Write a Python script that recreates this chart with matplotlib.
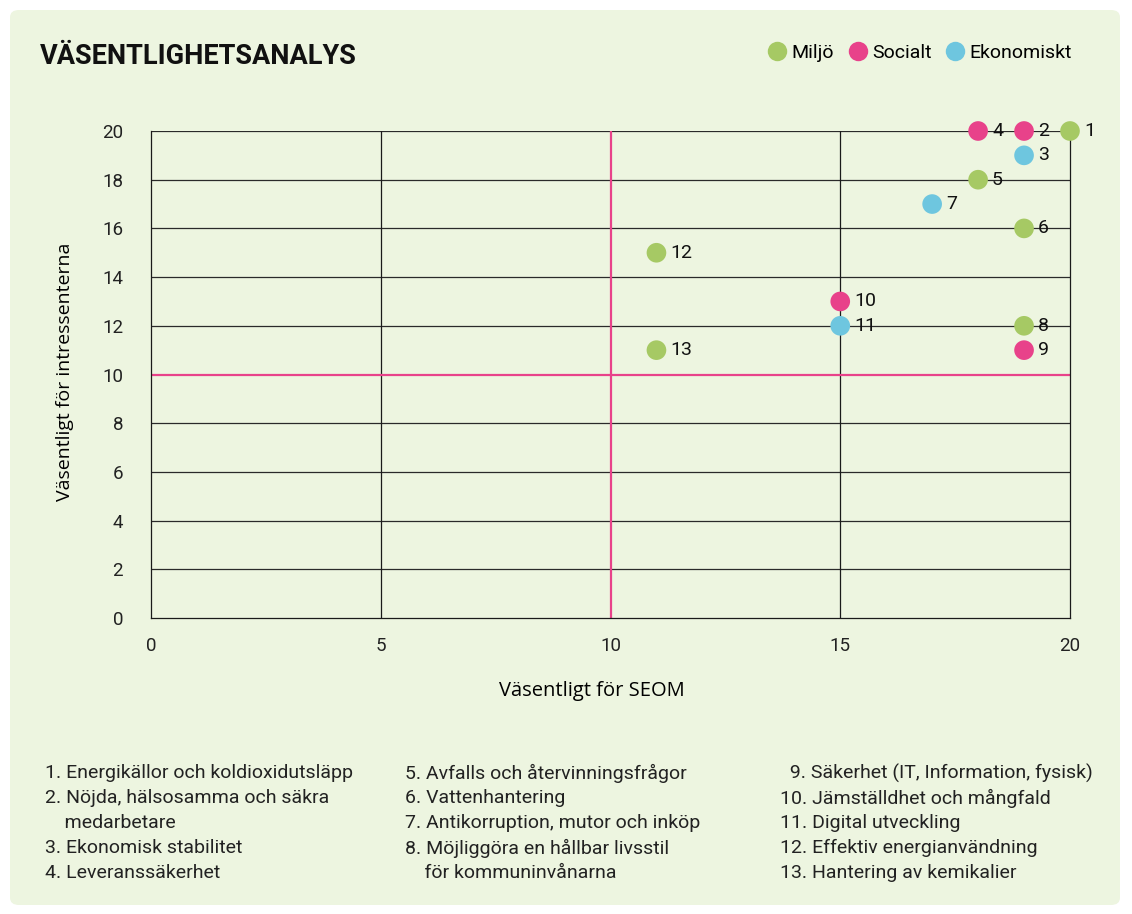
import matplotlib.pyplot as plt
from matplotlib.patches import FancyBboxPatch
from matplotlib.lines import Line2D

plt.rcParams['font.family'] = ['Roboto', 'DejaVu Sans']

# data
nums = [1, 2, 3, 4, 5, 6, 7, 8, 9, 10, 11, 12, 13]
seom = [20, 19, 19, 18, 18, 19, 17, 19, 19, 15, 15, 11, 11]
intressent = [20, 20, 19, 20, 18, 16, 17, 12, 11, 13, 12, 15, 11]
kategori = ['Miljö', 'Socialt', 'Ekonomiskt', 'Socialt', 'Miljö', 'Miljö', 'Ekonomiskt',
            'Miljö', 'Socialt', 'Socialt', 'Ekonomiskt', 'Miljö', 'Miljö']
kat_names = ['Miljö', 'Socialt', 'Ekonomiskt']
kat_colors = {'Miljö': '#a6c964', 'Socialt': '#e8428a', 'Ekonomiskt': '#6ec6df'}

col1 = ['1. Energikällor och koldioxidutsläpp', '2. Nöjda, hälsosamma och säkra',
        '    medarbetare', '3. Ekonomisk stabilitet', '4. Leveranssäkerhet']
col2 = ['5. Avfalls och återvinningsfrågor', '6. Vattenhantering',
        '7. Antikorruption, mutor och inköp', '8. Möjliggöra en hållbar livsstil',
        '    för kommuninvånarna']
col3 = ['  9. Säkerhet (IT, Information, fysisk)', '10. Jämställdhet och mångfald',
        '11. Digital utveckling', '12. Effektiv energianvändning', '13. Hantering av kemikalier']

bg = '#edf5e0'
fig = plt.figure(figsize=(11.32, 9.14), dpi=100)
fig.patch.set_facecolor('white')
panel = FancyBboxPatch((10 / 1132, 1 - 905 / 914), 1110 / 1132, 895 / 914,
                       boxstyle='round,pad=0,rounding_size=0.008',
                       transform=fig.transFigure, facecolor=bg, edgecolor='none', zorder=-10)
fig.patches.append(panel)

ax = fig.add_axes([151 / 1132, 1 - 618 / 914, 919 / 1132, 487 / 914])
ax.set_facecolor(bg)
ax.set_xlim(0, 20)
ax.set_ylim(0, 20)
ax.set_xticks([0, 5, 10, 15, 20])
ax.set_yticks(range(0, 21, 2))
ax.spines['top'].set_visible(False)
for s in ['left', 'bottom', 'right']:
    ax.spines[s].set_linewidth(0.9)
    ax.spines[s].set_color('#1a1a1a')
ax.tick_params(length=0, labelsize=13.5, colors='#222222')
ax.tick_params(axis='x', pad=14)
ax.tick_params(axis='y', pad=20)
for yv in range(2, 21, 2):
    if yv != 10:
        ax.axhline(yv, color='#2a2a2a', lw=0.9, zorder=1)
for xv in [5, 15]:
    ax.axvline(xv, color='#1a1a1a', lw=0.9, zorder=1)
ax.axhline(10, color='#e8428a', lw=1.6, zorder=2)
ax.axvline(10, color='#e8428a', lw=1.6, zorder=2)

for n, x, y, k in zip(nums, seom, intressent, kategori):
    ax.scatter(x, y, s=200, color=kat_colors[k], edgecolors='none', zorder=5, clip_on=False)
    ax.annotate(str(n), (x, y), xytext=(10, 0), textcoords='offset points',
                va='center', ha='left', fontsize=14, color='#111111', zorder=6)

ax.set_xlabel('Väsentligt för SEOM', fontsize=14.5, family=['Open Sans', 'DejaVu Sans'])
ax.xaxis.set_label_coords(0.48, -0.13)
ax.set_ylabel('Väsentligt för intressenterna', fontsize=14,
              family=['Open Sans', 'DejaVu Sans'], fontweight='medium')
ax.yaxis.set_label_coords(-0.084, 0.505)

handles = [Line2D([], [], marker='o', ls='none', markersize=14, color=kat_colors[k],
                  markeredgewidth=0) for k in kat_names]
fig.legend(handles, kat_names, loc='center right', bbox_to_anchor=(1072 / 1132, 1 - 53 / 914),
           ncol=3, frameon=False, fontsize=14, handletextpad=0.25, columnspacing=0.7,
           handlelength=1.0, borderpad=0, borderaxespad=0)

fig.text(40 / 1132, 1 - 57 / 914, 'VÄSENTLIGHETSANALYS', fontsize=19.5, fontweight='bold',
         va='center', ha='left', color='#111111')

for cx, lines in zip([45, 405, 780], [col1, col2, col3]):
    for i, t in enumerate(lines):
        fig.text(cx / 1132, 1 - (773 + 25 * i) / 914, t, fontsize=14, va='center',
                 ha='left', color='#222222')

fig.savefig('out.png', dpi=100, facecolor='white')
